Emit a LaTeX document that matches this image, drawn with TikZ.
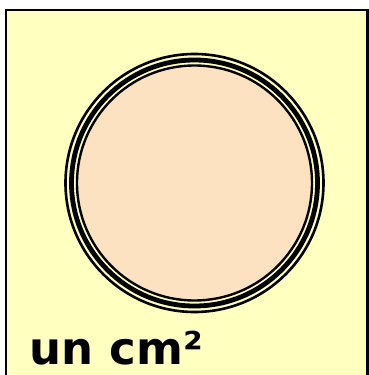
\documentclass[tikz,border=0pt]{standalone}
\usepackage{fontspec}
\newfontfamily\labelfont{DejaVu Sans}
\definecolor{paper}{RGB}{255,255,192}
\definecolor{peach}{RGB}{252,226,192}

\begin{document}
\begin{tikzpicture}[
    x=1pt, y=-1pt,
    frame/.style={draw=black, fill=paper, line width=2.8pt},
    ring/.style={draw=black, line width=#1},
    tag/.style={anchor=base west, inner sep=0pt, font=\labelfont\bfseries\fontsize{45}{45}\selectfont}
]
\useasboundingbox (0,0) rectangle (369,375);
\clip (0,0) rectangle (369,375);

% the square
\draw[frame] (6,10) rectangle (367.5,400);

% the disc
\coordinate (centre) at (194.5,183);
\fill[peach] (centre) circle (117.5pt);
\draw[ring=2.6pt] (centre) circle (129pt);
\draw[ring=4.8pt] (centre) circle (123pt);
\draw[ring=2.4pt] (centre) circle (117.5pt);

% label
\node[tag] (label) at (29.5,364) {un cm²};

\end{tikzpicture}
\end{document}
